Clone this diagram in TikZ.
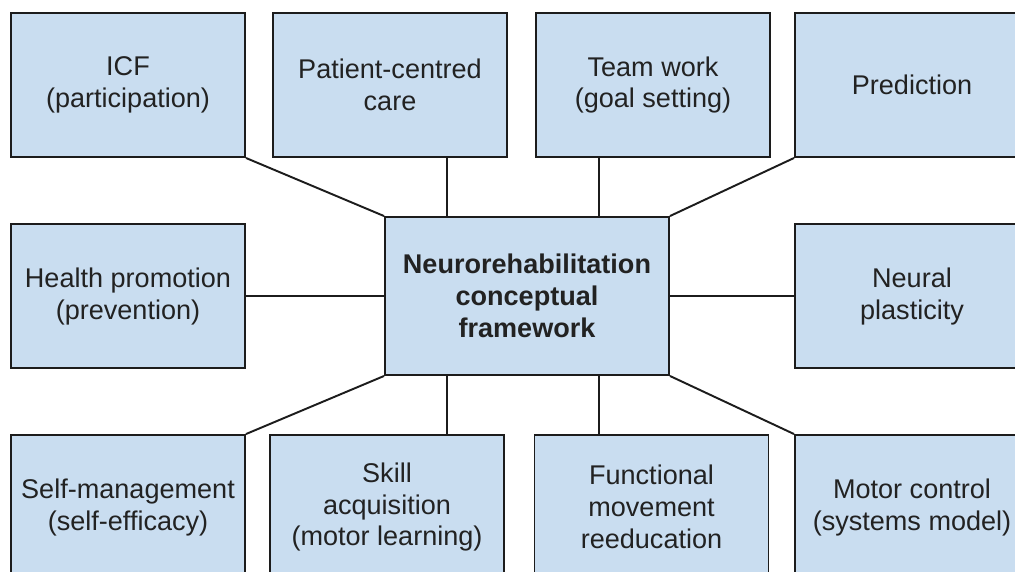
\documentclass[tikz,border=0pt]{standalone}
\usepackage{fontspec}
\setmainfont{Liberation Sans}
\usetikzlibrary{positioning}

\definecolor{boxblue}{HTML}{C9DDF0}
\definecolor{edgegray}{HTML}{1C1C1C}
\definecolor{textgray}{HTML}{222222}

\tikzset{
  box/.style={draw=edgegray,line width=1.1pt,fill=boxblue,text=textgray,
    minimum width=4.68cm,minimum height=2.88cm,align=center,inner sep=2pt,
    font=\fontsize{15.4}{18.2}\selectfont},
  hubbox/.style={box,minimum width=5.68cm,minimum height=3.16cm,
    font=\fontsize{15.4}{18.2}\selectfont\bfseries},
  link/.style={draw=edgegray,line width=1.1pt}
}

\begin{document}
\begin{tikzpicture}
\useasboundingbox (0,0) rectangle (20.3,-11.42);
\clip (0,0) rectangle (20.3,-11.42);
% centre
\node[hubbox] (hub) at (10.54,-5.92) {Neurorehabilitation\\conceptual\\framework};
% top row
\node[box] (icf) at (2.56,-1.70) {ICF\\(participation)};
\node[box] (pcc) at (7.80,-1.70) {Patient-centred\\care};
\node[box] (team) at (13.06,-1.70) {Team work\\(goal setting)};
\node[box] (pred) at (18.24,-1.70) {Prediction};
% middle row
\node[box] (health) at (2.56,-5.92) {Health promotion\\(prevention)};
\node[box] (neural) at (18.24,-5.92) {Neural\\plasticity};
% bottom row
\node[box] (self) at (2.56,-10.14) {Self-management\\(self-efficacy)};
\node[box] (skill) at (7.74,-10.14) {Skill\\acquisition\\(motor learning)};
\node[box] (func) at (13.03,-10.14) {Functional\\movement\\reeducation};
\node[box] (motor) at (18.24,-10.14) {Motor control\\(systems model)};

\draw[link] (icf.south east) -- (hub.north west);
\draw[link] (pred.south west) -- (hub.north east);
\draw[link] (self.north east) -- (hub.south west);
\draw[link] (motor.north west) -- (hub.south east);
\draw[link] (health) -- (hub);
\draw[link] (neural) -- (hub);
\draw[link] ([xshift=-1.6cm]hub.north) -- ([xshift=-1.6cm]hub.north |- pcc.south);
\draw[link] ([xshift=1.44cm]hub.north) -- ([xshift=1.44cm]hub.north |- team.south);
\draw[link] ([xshift=-1.6cm]hub.south) -- ([xshift=-1.6cm]hub.south |- skill.north);
\draw[link] ([xshift=1.44cm]hub.south) -- ([xshift=1.44cm]hub.south |- func.north);
\end{tikzpicture}
\end{document}
